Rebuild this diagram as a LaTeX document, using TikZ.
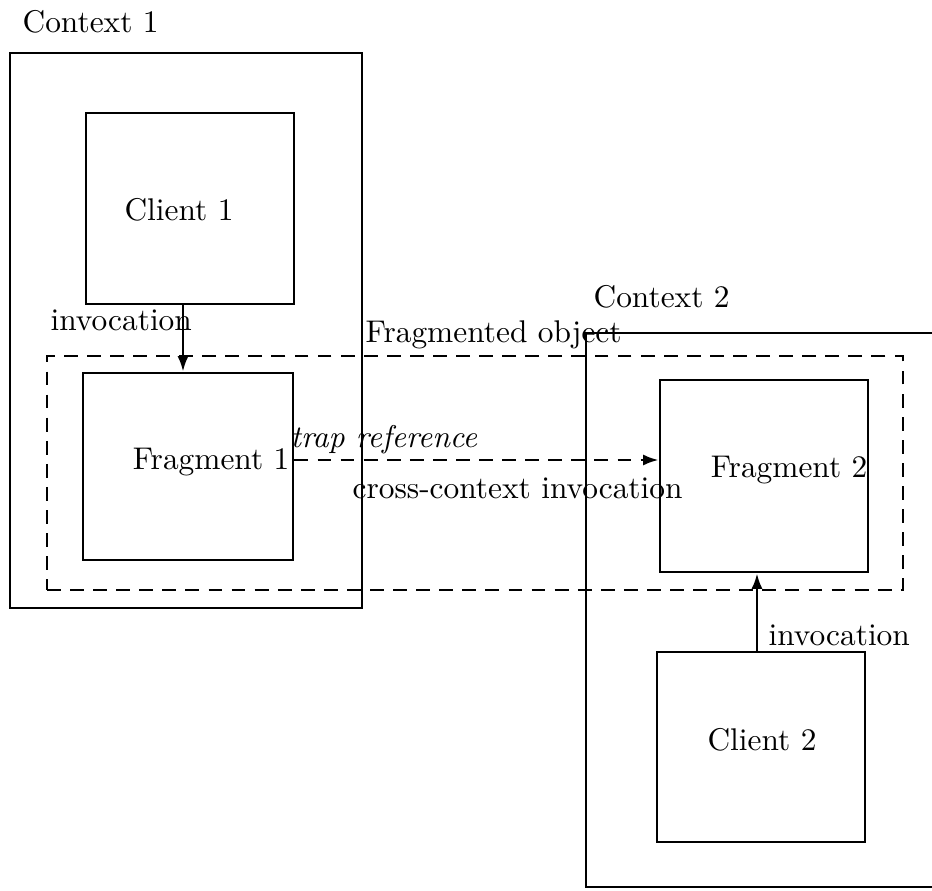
\documentclass[tikz,border=0pt]{standalone}
\usetikzlibrary{arrows.meta,fit}
\begin{document}
\begin{tikzpicture}[x=0.325pt,y=-0.325pt,
  box/.style={draw,line width=0.95pt,inner sep=0pt},
  dbox/.style={draw,line width=0.95pt,inner sep=0pt,dash pattern=on 4.5pt off 3pt},
  txt/.style={inner sep=0pt,font=\fontsize{10.2}{12}\selectfont},
  arr/.style={line width=0.8pt,-{Latex[length=5pt,width=3.6pt]}},
  darr/.style={line width=0.8pt,dash pattern=on 4.5pt off 3pt,-{Latex[length=5pt,width=3.6pt]}}]
\useasboundingbox (0,0) rectangle (932,891);
\clip (0,0) rectangle (932,891);
% contexts
\node[box,fit={(10,53) (362,608)}] (ctx1) {};
\node[txt,anchor=west] (ctx1l) at (22,22) {Context 1};
\node[box,fit={(586,333) (980,887)}] (ctx2) {};
\node[txt,anchor=west] (ctx2l) at (593,297) {Context 2};
% fragmented object
\node[dbox,fit={(47,356) (903,590)}] (fo) {};
\node[txt,anchor=west] (fol) at (365,335) {Fragmented object};
% boxes
\node[box,fit={(86,113) (294,304)}] (c1) {};
\node[txt] (c1l) at (179,210) {Client 1};
\node[box,fit={(83,373) (293,560)}] (f1) {};
\node[txt,anchor=east] (f1l) at (290,462) {Fragment 1};
\node[box,fit={(660,380) (868,572)}] (f2) {};
\node[txt,anchor=east] (f2l) at (868,470) {Fragment 2};
\node[box,fit={(657,652) (865,842)}] (c2) {};
\node[txt] (c2l) at (762,740) {Client 2};
% labels
\node[txt,anchor=west] (inv1) at (50,320) {invocation};
\node[txt,anchor=west] (inv2) at (768,635) {invocation};
\node[txt,anchor=west] (trap) at (290,440) {\itshape trap reference};
\node[txt,anchor=west] (cci) at (352,488) {cross-context invocation};
% connectors
\coordinate (ax1) at (183,0);
\coordinate (ax2) at (757,0);
\coordinate (ay) at (0,460);
\draw[arr] (c1.south -| ax1) -- (f1.north -| ax1);
\draw[arr] (c2.north -| ax2) -- (f2.south -| ax2);
\draw[darr] (f1.east |- ay) -- (f2.west |- ay);
\end{tikzpicture}
\end{document}
